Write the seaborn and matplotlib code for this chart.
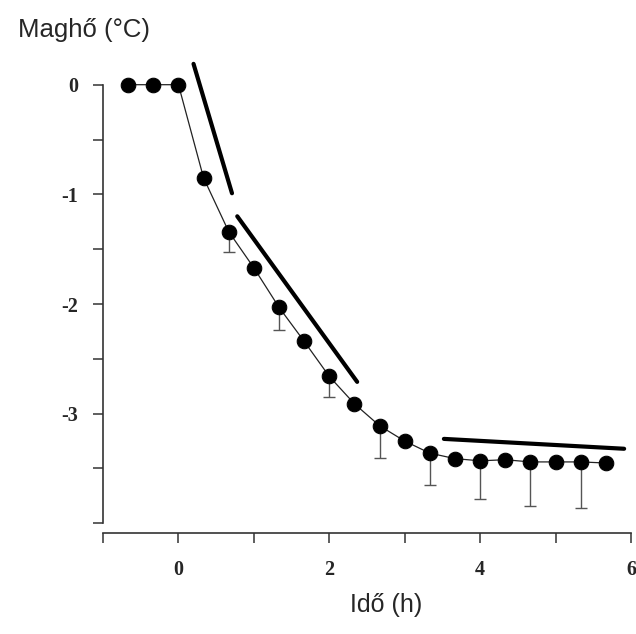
import numpy as np
import pandas as pd
import matplotlib
matplotlib.use("Agg")
import matplotlib.pyplot as plt
import seaborn as sns

# core temperature vs time
time_h = [-2/3, -1/3, 0, 1/3, 2/3, 1, 4/3, 5/3, 2, 7/3, 8/3, 3, 10/3, 11/3, 4, 13/3, 14/3, 5, 16/3, 17/3]
temp_c = [0, 0, 0, -0.85, -1.34, -1.67, -2.03, -2.34, -2.66, -2.91, -3.11, -3.25, -3.36, -3.41,
          -3.43, -3.42, -3.44, -3.44, -3.44, -3.45]
# downward error bars (only some points), index into time_h
err_idx = [4, 6, 8, 10, 12, 14, 16, 18]
err_low = [0.19, 0.21, 0.19, 0.29, 0.29, 0.35, 0.40, 0.42]

# thick slope lines
slope1_x = [0.20, 0.71]
slope1_y = [0.19, -0.99]
slope2_x = [0.78, 2.37]
slope2_y = [-1.20, -2.71]
slope3_x = [3.52, 5.91]
slope3_y = [-3.23, -3.32]

xticks = [-1, 0, 1, 2, 3, 4, 5, 6]
xticklabels = ["", "0", "", "2", "", "4", "", "6"]
yticks = [-4, -3.5, -3, -2.5, -2, -1.5, -1, -0.5, 0]
yticklabels = ["", "", "-3", "", "-2", "", "-1", "", "0"]

df = pd.DataFrame({"time": time_h, "temp": temp_c})
err_df = pd.DataFrame({"time": [time_h[i] for i in err_idx],
                       "temp": [temp_c[i] for i in err_idx],
                       "err": err_low})

sns.set_style("ticks")
fig = plt.figure(figsize=(6.36, 6.34), dpi=100)
ax = fig.add_axes([0.162, 0.159, 0.83, 0.742])

ax.errorbar(err_df["time"], err_df["temp"], yerr=[err_df["err"], np.zeros(len(err_df))],
            fmt="none", ecolor="#555555", elinewidth=1.0, capsize=4.5, capthick=1.0, zorder=2)
sns.lineplot(data=df, x="time", y="temp", ax=ax, color="#222222", linewidth=0.9,
             marker="o", markersize=10.5, markeredgecolor="black", markerfacecolor="black", zorder=3)

for sx, sy in [(slope1_x, slope1_y), (slope2_x, slope2_y), (slope3_x, slope3_y)]:
    ax.plot(sx, sy, color="black", linewidth=3.0, solid_capstyle="round", clip_on=False, zorder=4)

ax.set_xlim(-1, 6)
ax.set_ylim(-4.09, 0.2)
ax.set_xticks(xticks)
ax.set_xticklabels(xticklabels)
ax.set_yticks(yticks)
ax.set_yticklabels(yticklabels)
for lab in ax.get_xticklabels() + ax.get_yticklabels():
    lab.set_family("Liberation Serif")
    lab.set_fontweight("bold")
    lab.set_fontsize(14.5)
ax.tick_params(axis="both", direction="out", length=7, width=1.1, color="#333333")
ax.tick_params(axis="y", pad=11)
ax.tick_params(axis="x", pad=12)

sns.despine(ax=ax)
ax.spines["left"].set_bounds(-4, 0)
ax.spines["bottom"].set_bounds(-1, 6)
for s in ["left", "bottom"]:
    ax.spines[s].set_color("#333333")
    ax.spines[s].set_linewidth(1.2)
ax.set_xlabel("")
ax.set_ylabel("")

fig.text(0.028, 0.953, "Maghő (°C)", family="Liberation Sans", fontsize=18.5, va="center", ha="left")
fig.text(0.607, 0.046, "Idő (h)", family="Liberation Sans", fontsize=18, va="center", ha="center")

fig.savefig("out.png", dpi=100)
